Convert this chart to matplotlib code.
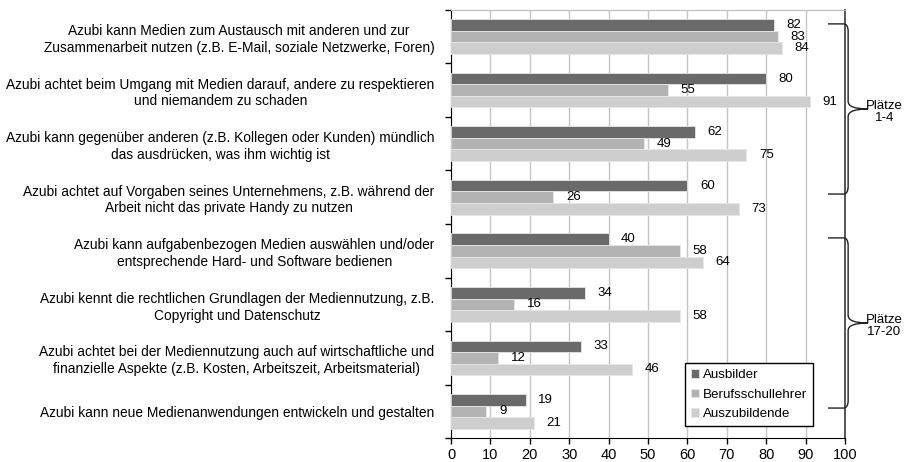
import matplotlib.pyplot as plt
import numpy as np
from matplotlib.path import Path
from matplotlib.patches import PathPatch
import matplotlib.transforms as mtransforms

plt.rcParams['font.family'] = ['Liberation Sans', 'DejaVu Sans']

#  data
categories = [
    'Azubi kann Medien zum Austausch mit anderen und zur\nZusammenarbeit nutzen (z.B. E-Mail, soziale Netzwerke, Foren)',
    'Azubi achtet beim Umgang mit Medien darauf, andere zu respektieren\nund niemandem zu schaden',
    'Azubi kann gegenüber anderen (z.B. Kollegen oder Kunden) mündlich\ndas ausdrücken, was ihm wichtig ist',
    'Azubi achtet auf Vorgaben seines Unternehmens, z.B. während der\nArbeit nicht das private Handy zu nutzen',
    'Azubi kann aufgabenbezogen Medien auswählen und/oder\nentsprechende Hard- und Software bedienen',
    'Azubi kennt die rechtlichen Grundlagen der Mediennutzung, z.B.\nCopyright und Datenschutz',
    'Azubi achtet bei der Mediennutzung auch auf wirtschaftliche und\nfinanzielle Aspekte (z.B. Kosten, Arbeitszeit, Arbeitsmaterial)',
    'Azubi kann neue Medienanwendungen entwickeln und gestalten',
]
series_names = ['Ausbilder', 'Berufsschullehrer', 'Auszubildende']
ausbilder = [82, 80, 62, 60, 40, 34, 33, 19]
berufsschullehrer = [83, 55, 49, 26, 58, 16, 12, 9]
auszubildende = [84, 91, 75, 73, 64, 58, 46, 21]
x_ticks = [0, 10, 20, 30, 40, 50, 60, 70, 80, 90, 100]

#  brace groups: (first category, last category, label)
brace_groups = [(0, 3, 'Plätze\n1-4'), (4, 7, 'Plätze\n17-20')]

colors = ['#6a6a6a', '#b3b3b3', '#cecece']

fig = plt.figure(figsize=(9.08, 4.62), dpi=100)
ax = fig.add_axes([0.4967, 0.0519, 0.4339, 0.9265])

y = np.arange(len(categories))
h = 0.215
values = [ausbilder, berufsschullehrer, auszubildende]

for i, (name, vals, c) in enumerate(zip(series_names, values, colors)):
    pos = y + (i - 1) * h
    ax.barh(pos, vals, height=h, color=c, label=name,
            edgecolor='#e6e6e6', linewidth=0.6, zorder=3)
    for p, v in zip(pos, vals):
        ax.annotate(str(v), (v, p), xytext=(9, 0), textcoords='offset points',
                    ha='left', va='center', fontsize=9.5, zorder=4)

ax.set_xlim(0, 100)
ax.set_ylim(len(categories) - 0.5, -0.5)
ax.set_xticks(x_ticks)
ax.tick_params(axis='x', labelsize=10.5, length=4, direction='out', width=1)

ax.set_yticks(y)
ax.set_yticklabels(categories, fontsize=9.9, multialignment='center', linespacing=1.25)
ax.tick_params(axis='y', which='major', length=0, pad=12)
ax.set_yticks(np.arange(len(categories) + 1) - 0.5, minor=True)
ax.tick_params(axis='y', which='minor', length=4, width=1)

ax.grid(axis='x', color='#c4c4c4', linewidth=1, zorder=0)
ax.set_axisbelow(True)

ax.spines['left'].set_color('black')
ax.spines['bottom'].set_color('black')
ax.spines['right'].set_color('#555555')
ax.spines['right'].set_linewidth(1.4)
ax.spines['top'].set_color('#bbbbbb')

leg = ax.legend(loc='lower right', bbox_to_anchor=(0.919, 0.028), fontsize=9.6,
                handlelength=0.6, handleheight=0.6, handletextpad=0.3,
                labelspacing=0.55, borderpad=0.45, borderaxespad=0, fancybox=False,
                edgecolor='black', framealpha=1)
leg.get_frame().set_linewidth(1)

#  curly braces on the right, x in axes coords, y in data coords
trans = mtransforms.blended_transform_factory(ax.transAxes, ax.transData)
x_arm, x_bar, x_tip = 0.957, 1.008, 1.058
r = 0.14
for first, last, label in brace_groups:
    top = first - 0.24
    bot = last - 0.06
    mid = (top + bot) / 2
    verts = [(x_arm, top), (x_bar - 0.012, top), (x_bar, top), (x_bar, top + r),
             (x_bar, mid - r), (x_bar, mid), (x_tip, mid),
             (x_bar, mid), (x_bar, mid + r),
             (x_bar, bot - r), (x_bar, bot), (x_bar - 0.012, bot), (x_arm, bot)]
    codes = [Path.MOVETO, Path.LINETO, Path.CURVE3, Path.CURVE3,
             Path.LINETO, Path.CURVE3, Path.CURVE3,
             Path.CURVE3, Path.CURVE3,
             Path.LINETO, Path.CURVE3, Path.CURVE3, Path.LINETO]
    patch = PathPatch(Path(verts, codes), transform=trans, fill=False,
                      edgecolor='#222222', linewidth=1, clip_on=False, zorder=5)
    ax.add_patch(patch)
    ax.text(1.10, mid + 0.05, label, transform=trans, ha='center', va='center',
            fontsize=9.5, linespacing=1.0)

plt.savefig('out.png', dpi=100)
